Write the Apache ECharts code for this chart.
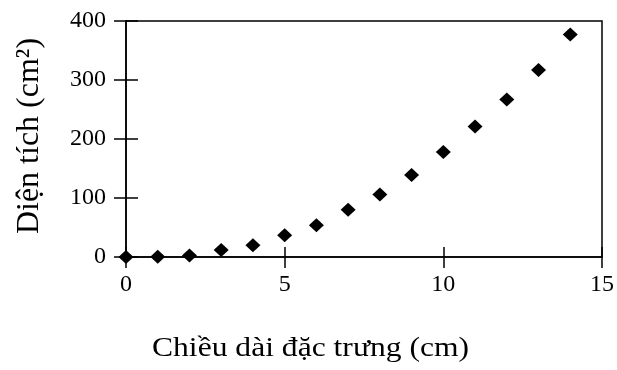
<!DOCTYPE html>
<html>
<head>
<meta charset="utf-8">
<script src="https://cdn.jsdelivr.net/npm/echarts@6/dist/echarts.min.js"></script>
<style>
  html, body { margin: 0; padding: 0; background: #fff; }
  #main { width: 617px; height: 370px; }
</style>
</head>
<body>
<div id="main"></div>
<script>
// chieu dai dac trung (cm) va dien tich (cm2)
var lengths = [0, 1, 2, 3, 4, 5, 6, 7, 8, 9, 10, 11, 12, 13, 14];
var areas = [0, 0.5, 2.5, 12, 20, 37, 54, 80, 106, 139, 178, 221, 267, 317, 377];
var xTitle = 'Chiều dài đặc trưng (cm)';
var yTitle = 'Diện tích (cm²)';

var font = '"Liberation Serif", "Times New Roman", serif';
var points = lengths.map(function (x, i) { return [x, areas[i]]; });

var myChart = echarts.init(document.getElementById('main'));

var lineStyle = { color: '#000', width: 1.5 };
var box = { left: 126, right: 15, top: 21, bottom: 113, outerBoundsMode: 'none' };

var option = {
    backgroundColor: '#fff',
    animation: false,
    graphic: [{
        type: 'text',
        x: 152, y: 349,
        scaleX: 1.17,
        style: { text: xTitle, font: '27px ' + font, fill: '#000', align: 'left', verticalAlign: 'middle' }
    }, {
        type: 'text',
        x: 30, y: 136,
        rotation: Math.PI / 2,
        style: { text: yTitle, font: '32px ' + font, fill: '#000', align: 'center', verticalAlign: 'middle' }
    }],
    // grid 0 carries the data and the outer half of the ticks,
    // grid 1 sits on top of it only to draw the inner half of the ticks
    grid: [
        Object.assign({ show: true, borderColor: '#000', borderWidth: 1.5 }, box),
        Object.assign({ show: false }, box)
    ],
    xAxis: [{
        gridIndex: 0, type: 'value', min: 0, max: 15, interval: 5,
        axisLine: { show: true, onZero: false, lineStyle: lineStyle },
        axisTick: { show: true, inside: false, length: 11, lineStyle: lineStyle },
        axisLabel: { margin: 16, fontFamily: font, fontSize: 24, color: '#000' },
        splitLine: { show: false }
    }, {
        gridIndex: 1, type: 'value', min: 0, max: 15, interval: 5,
        axisLine: { show: false, onZero: false },
        axisTick: { show: true, inside: true, length: 10, lineStyle: lineStyle },
        axisLabel: { show: false },
        splitLine: { show: false }
    }],
    yAxis: [{
        gridIndex: 0, type: 'value', min: 0, max: 400, interval: 100,
        axisLine: { show: true, onZero: false, lineStyle: lineStyle },
        axisTick: { show: true, inside: false, length: 12, lineStyle: lineStyle },
        axisLabel: { margin: 20, fontFamily: font, fontSize: 24, color: '#000' },
        splitLine: { show: false }
    }, {
        gridIndex: 1, type: 'value', min: 0, max: 400, interval: 100, position: 'left',
        axisLine: { show: false, onZero: false },
        axisTick: { show: true, inside: true, length: 12, lineStyle: lineStyle },
        axisLabel: { show: false },
        splitLine: { show: false }
    }],
    series: [{
        type: 'scatter',
        xAxisIndex: 0, yAxisIndex: 0,
        data: points,
        symbol: 'diamond',
        symbolSize: [15, 14],
        itemStyle: { color: '#000', opacity: 1 },
        z: 5
    }]
};
myChart.setOption(option);
</script>
</body>
</html>
